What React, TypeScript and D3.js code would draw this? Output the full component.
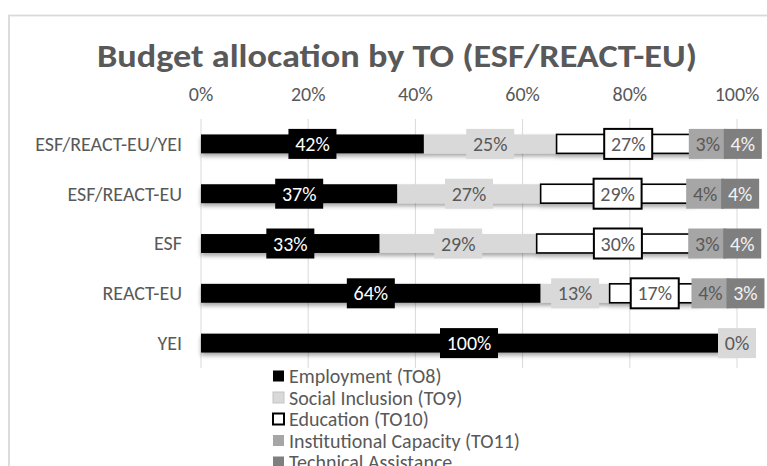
import React from 'react';
import * as d3 from 'd3';

const categories = ['ESF/REACT-EU/YEI', 'ESF/REACT-EU', 'ESF', 'REACT-EU', 'YEI'];
const seriesKeys = ['emp', 'soc', 'edu', 'inst', 'tech'];
const seriesNames = [
  'Employment (TO8)',
  'Social Inclusion (TO9)',
  'Education (TO10)',
  'Institutional Capacity (TO11)',
  'Technical Assistance',
];
const employment = [42, 37, 33, 64, 100];
const socialInclusion = [25, 27, 29, 13, 0];
const education: (number | null)[] = [27, 29, 30, 17, null];
const institutional: (number | null)[] = [3, 4, 3, 4, null];
const technical: (number | null)[] = [4, 4, 4, 3, null];
const tickValues = [0, 0.2, 0.4, 0.6, 0.8, 1];

const fills = ['#000000', '#d9d9d9', '#ffffff', '#a6a6a6', '#7f7f7f'];
const strokes = ['none', 'none', '#000000', 'none', 'none'];
const labelColors = ['#ffffff', '#595959', '#595959', '#595959', '#f2f2f2'];

const W = 767;
const H = 466;
const FONT = 'Carlito, Calibri, Lato, sans-serif';
const TEXT = '#595959';
const FS = 20;

export default function App() {
  const seriesValues = [employment, socialInclusion, education, institutional, technical];
  const rows = categories.map((c, i) => {
    const r: any = { cat: c };
    seriesKeys.forEach((k, s) => {
      r[k] = seriesValues[s][i] ?? 0;
    });
    return r;
  });
  const stacked = d3.stack<any>().keys(seriesKeys).offset(d3.stackOffsetExpand)(rows);

  const x = d3.scaleLinear().domain([0, 1]).range([201, 737]);
  const y = d3.scaleBand<string>().domain(categories).range([119, 368]).paddingInner(0.62).paddingOuter(0.31);
  const bw = y.bandwidth();

  // labels with simple collision avoidance
  const labels: any[] = [];
  categories.forEach((c, i) => {
    let prevRight = -Infinity;
    seriesKeys.forEach((k, s) => {
      const v = seriesValues[s][i];
      if (v === null || v === undefined) return;
      const seg = stacked[s][i];
      const cx = (x(seg[0]) + x(seg[1])) / 2;
      const txt = `${v}%`;
      const w = String(v).length * 10 + 14 + 14;
      let left = cx - w / 2;
      if (left < prevRight - 3) left = prevRight - 3;
      prevRight = left + w;
      labels.push({ i, s, txt, left, w, cy: (y(c) as number) + bw / 2 });
    });
  });

  return (
    <>
      <style>{`body{margin:0;overflow:hidden}`}</style>
      <svg width={W} height={H} style={{ display: 'block', background: '#fff' }}>
        <defs>
          <filter id="shadow" x="-10%" y="-30%" width="120%" height="180%">
            <feDropShadow dx="0" dy="3" stdDeviation="2.2" floodColor="#000" floodOpacity="0.35" />
          </filter>
        </defs>
        <rect x={9} y={15.5} width={900} height={600} fill="#fff" stroke="#d9d9d9" strokeWidth={1.8} />
        <text x={397} y={67} textAnchor="middle" fontFamily={FONT} fontWeight="bold" fontSize={32} fill={TEXT} textLength={600} lengthAdjust="spacingAndGlyphs">
          Budget allocation by TO (ESF/REACT-EU)
        </text>
        {tickValues.map((t) => (
          <g key={t}>
            <line x1={x(t)} x2={x(t)} y1={119} y2={368} stroke="#d9d9d9" strokeWidth={1} />
            <text x={x(t)} y={101} textAnchor="middle" fontFamily={FONT} fontSize={FS} fill={TEXT}>
              {d3.format('.0%')(t)}
            </text>
          </g>
        ))}
        {categories.map((c) => (
          <text key={c} x={182} y={(y(c) as number) + bw / 2 + 6.8} textAnchor="end" fontFamily={FONT} fontSize={FS} fill={TEXT}>
            {c}
          </text>
        ))}
        <g filter="url(#shadow)">
          {stacked.map((ser, s) => (
            <g key={s}>
              {ser.map((d, i) =>
                d[1] - d[0] > 0 ? (
                  <rect
                    key={i}
                    x={x(d[0])}
                    y={y(categories[i])}
                    width={x(d[1]) - x(d[0])}
                    height={bw}
                    fill={fills[s]}
                    stroke={strokes[s]}
                    strokeWidth={strokes[s] === 'none' ? 0 : 1.6}
                  />
                ) : null
              )}
            </g>
          ))}
        </g>
        {labels.map((l, k) => (
          <g key={k}>
            <rect
              x={l.left}
              y={l.cy - 15}
              width={l.w}
              height={30}
              fill={fills[l.s]}
              stroke={strokes[l.s]}
              strokeWidth={strokes[l.s] === 'none' ? 0 : 2}
            />
            <text x={l.left + l.w / 2} y={l.cy + 7} textAnchor="middle" fontFamily={FONT} fontSize={FS} fill={labelColors[l.s]}>
              {l.txt}
            </text>
          </g>
        ))}
        {seriesNames.map((n, s) => {
          const cy = 376 + s * 21.5;
          return (
            <g key={n}>
              <rect
                x={273}
                y={cy - 5.5}
                width={11}
                height={11}
                fill={fills[s]}
                stroke={s === 2 ? '#000' : s === 1 ? '#c4c4c4' : 'none'}
                strokeWidth={s === 2 ? 2 : 1}
              />
              <text x={289} y={cy + 7} fontFamily={FONT} fontSize={FS} fill={TEXT}>
                {n}
              </text>
            </g>
          );
        })}
      </svg>
    </>
  );
}
